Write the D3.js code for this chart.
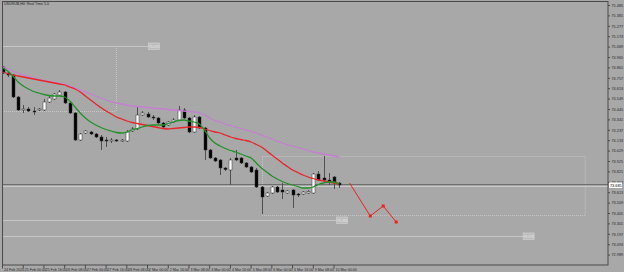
<!DOCTYPE html>
<html>
<head>
<meta charset="utf-8">
<script src="https://cdnjs.cloudflare.com/ajax/libs/d3/7.8.5/d3.min.js"></script>
<style>
body { margin: 0; background: #a8a8a8; }
svg { display: block; font-family: "Liberation Sans", "DejaVu Sans", sans-serif; }
</style>
</head>
<body>
<div id="chart"></div>
<script>
//Chart title
var title = "USDRUB,H4: Real Time 5.0";

//Candles, one value per H4 bar
var opens = [74.865, 74.805, 74.785, 74.565, 74.435, 74.445, 74.425, 74.435, 74.435, 74.515,
	74.545, 74.585, 74.615, 74.505, 74.405, 74.135, 74.205, 74.215, 74.195, 74.165,
	74.135, 74.130, 74.135, 74.125, 74.125, 74.225, 74.245, 74.385, 74.395, 74.365,
	74.355, 74.305, 74.285, 74.315, 74.335, 74.435, 74.355, 74.215, 74.365, 74.255,
	74.035, 73.955, 73.935, 73.855, 73.835, 73.955, 73.955, 73.905, 73.865, 73.835,
	73.665, 73.575, 73.605, 73.665, 73.635, 73.605, 73.635, 73.595, 73.595, 73.605,
	73.605, 73.795, 73.755, 73.735, 73.765, 73.705];
var highs = [74.875, 74.815, 74.795, 74.575, 74.485, 74.465, 74.465, 74.455, 74.545, 74.575,
	74.605, 74.635, 74.625, 74.515, 74.415, 74.205, 74.235, 74.225, 74.205, 74.185,
	74.165, 74.155, 74.145, 74.145, 74.235, 74.265, 74.465, 74.425, 74.415, 74.385,
	74.365, 74.315, 74.325, 74.355, 74.475, 74.455, 74.365, 74.385, 74.375, 74.265,
	74.045, 73.965, 73.945, 73.865, 73.955, 74.035, 73.965, 73.915, 73.875, 73.855,
	73.675, 73.615, 73.675, 73.675, 73.705, 73.635, 73.645, 73.605, 73.625, 73.635,
	73.805, 73.825, 73.975, 73.805, 73.775, 73.715];
var lows = [74.795, 74.765, 74.555, 74.425, 74.405, 74.415, 74.385, 74.425, 74.425, 74.505,
	74.535, 74.575, 74.495, 74.395, 74.125, 74.125, 74.195, 74.185, 74.155, 74.035,
	74.065, 74.105, 74.115, 74.115, 74.115, 74.215, 74.235, 74.375, 74.355, 74.335,
	74.295, 74.255, 74.275, 74.305, 74.325, 74.345, 74.205, 74.205, 74.245, 73.935,
	73.945, 73.915, 73.785, 73.825, 73.685, 73.925, 73.895, 73.855, 73.805, 73.655,
	73.395, 73.565, 73.595, 73.605, 73.545, 73.595, 73.455, 73.565, 73.585, 73.595,
	73.595, 73.725, 73.725, 73.685, 73.645, 73.655];
var closes = [74.805, 74.785, 74.565, 74.435, 74.445, 74.425, 74.420, 74.445, 74.515, 74.555,
	74.595, 74.615, 74.505, 74.405, 74.135, 74.195, 74.225, 74.195, 74.165, 74.125,
	74.130, 74.135, 74.125, 74.135, 74.215, 74.245, 74.385, 74.405, 74.365, 74.355,
	74.305, 74.265, 74.315, 74.335, 74.435, 74.355, 74.215, 74.365, 74.255, 74.035,
	73.955, 73.925, 73.855, 73.840, 73.935, 73.935, 73.905, 73.865, 73.815, 73.665,
	73.565, 73.605, 73.665, 73.615, 73.615, 73.625, 73.585, 73.585, 73.615, 73.620,
	73.795, 73.735, 73.735, 73.715, 73.705, 73.685];

//Moving averages (fast = green, middle = red, slow = violet)
var maFast = [74.855, 74.825, 74.775, 74.715, 74.675, 74.645, 74.620, 74.605, 74.590, 74.580,
	74.575, 74.575, 74.565, 74.525, 74.465, 74.405, 74.355, 74.315, 74.285, 74.260,
	74.240, 74.225, 74.210, 74.205, 74.215, 74.235, 74.250, 74.265, 74.280, 74.285,
	74.285, 74.285, 74.300, 74.315, 74.330, 74.335, 74.325, 74.315, 74.295, 74.235,
	74.155, 74.105, 74.075, 74.050, 74.030, 74.015, 73.995, 73.975, 73.955, 73.905,
	73.855, 73.815, 73.775, 73.745, 73.720, 73.700, 73.685, 73.670, 73.655, 73.655,
	73.665, 73.690, 73.705, 73.715, 73.715, 73.695];
var maMid = [74.815, 74.800, 74.785, 74.775, 74.765, 74.755, 74.745, 74.735, 74.725, 74.715,
	74.705, 74.695, 74.685, 74.665, 74.645, 74.615, 74.575, 74.535, 74.495, 74.460,
	74.425, 74.395, 74.365, 74.345, 74.325, 74.310, 74.300, 74.290, 74.280, 74.270,
	74.260, 74.250, 74.245, 74.250, 74.255, 74.260, 74.265, 74.265, 74.260, 74.245,
	74.230, 74.215, 74.205, 74.185, 74.165, 74.150, 74.140, 74.130, 74.115, 74.090,
	74.065, 74.025, 73.985, 73.945, 73.905, 73.870, 73.835, 73.810, 73.785, 73.765,
	73.750, 73.735, 73.725, 73.715, 73.705, 73.695];
var maSlow = [74.865, 74.845, 74.825, 74.805, 74.785, 74.770, 74.755, 74.740, 74.730, 74.720,
	74.710, 74.700, 74.690, 74.675, 74.655, 74.635, 74.615, 74.595, 74.575, 74.555,
	74.535, 74.515, 74.505, 74.495, 74.485, 74.475, 74.470, 74.465, 74.460, 74.455,
	74.450, 74.445, 74.440, 74.435, 74.430, 74.425, 74.420, 74.415, 74.405, 74.385,
	74.355, 74.330, 74.315, 74.295, 74.280, 74.265, 74.250, 74.235, 74.220, 74.205,
	74.185, 74.165, 74.145, 74.125, 74.105, 74.090, 74.075, 74.060, 74.045, 74.030,
	74.015, 74.005, 73.995, 73.985, 73.975, 73.965];

//Hand drawn forecast path (bar number, price)
var forecastBars = [67, 71, 73.5, 76];
var forecastPrices = [73.705, 73.375, 73.475, 73.315];

//Current bid
var bidPrice = 73.685;

//Horizontal levels drawn on the chart and the bar where their label sits
var levelPrices = [75.075, 73.335, 73.175];
var levelEnds = [28.2, 64.5, 100.5];

//Old high: dotted corner down to this price at this bar
var cornerBar = 21.9, cornerPrice = 74.425;

//Dotted box
var boxBars = [50, 112.3];
var boxPrices = [73.975, 73.385];

//Axis labels
var priceTicks = [75.485, 75.381, 75.277, 75.173, 75.069, 74.965, 74.861, 74.757, 74.653, 74.549,
	74.445, 74.341, 74.237, 74.133, 74.029, 73.925, 73.821, 73.717, 73.613, 73.509,
	73.405, 73.301, 73.197, 73.093, 72.989];
var timeLabels = ["24 Feb 2020", "25 Feb 00:00", "25 Feb 16:00", "26 Feb 08:00", "27 Feb 00:00",
	"27 Feb 16:00", "28 Feb 08:00", "2 Mar 00:00", "2 Mar 16:00", "3 Mar 08:00", "4 Mar 00:00",
	"4 Mar 16:00", "5 Mar 08:00", "6 Mar 00:00", "6 Mar 16:00", "9 Mar 08:00", "10 Mar 00:00"];
var labelEvery = 4;

///////////////////////////////////////////////////////////////////////////
//////////////////////////// Setup ////////////////////////////////////////
///////////////////////////////////////////////////////////////////////////

var width = 624, height = 272;
var plot = {left: 2.5, top: 1.5, right: 608, bottom: 265};

var x = d3.scaleLinear().domain([0, 65]).range([2.5, 339.2]);
var y = d3.scaleLinear().domain([75.515, 72.885]).range([2, 265]);

var svg = d3.select("#chart").append("svg")
	.attr("width", width)
	.attr("height", height);

svg.append("rect")
	.attr("width", width).attr("height", height)
	.attr("fill", "#a8a8a8");

svg.append("clipPath").attr("id", "clip")
	.append("rect")
	.attr("x", plot.left).attr("y", plot.top)
	.attr("width", plot.right - plot.left).attr("height", plot.bottom - plot.top);

var g = svg.append("g").attr("clip-path", "url(#clip)");

var bars = opens.map(function(o, i) {
	return {i: i, o: o, h: highs[i], l: lows[i], c: closes[i]};
});

///////////////////////////////////////////////////////////////////////////
//////////////////////////// Objects //////////////////////////////////////
///////////////////////////////////////////////////////////////////////////

var objColor = "#c6c6c6";

//level lines
g.selectAll(".level")
	.data(levelPrices)
	.enter().append("line")
	.attr("class", "level")
	.attr("x1", 0)
	.attr("x2", function(d, i) { return x(levelEnds[i]); })
	.attr("y1", function(d) { return Math.round(y(d)) + 0.5; })
	.attr("y2", function(d) { return Math.round(y(d)) + 0.5; })
	.attr("stroke", objColor)
	.attr("stroke-width", 1);

//dotted corner under the first level
g.append("line")
	.attr("x1", Math.round(x(cornerBar)) + 0.5).attr("x2", Math.round(x(cornerBar)) + 0.5)
	.attr("y1", y(levelPrices[0])).attr("y2", y(cornerPrice))
	.attr("stroke", objColor).attr("stroke-dasharray", "1,1");
g.append("line")
	.attr("x1", 0).attr("x2", x(cornerBar))
	.attr("y1", Math.round(y(cornerPrice)) + 0.5).attr("y2", Math.round(y(cornerPrice)) + 0.5)
	.attr("stroke", objColor).attr("stroke-dasharray", "1,1");

//dotted box
g.append("rect")
	.attr("x", Math.round(x(boxBars[0])) + 0.5)
	.attr("y", Math.round(y(boxPrices[0])) + 0.5)
	.attr("width", x(boxBars[1]) - x(boxBars[0]))
	.attr("height", y(boxPrices[1]) - y(boxPrices[0]))
	.attr("fill", "none")
	.attr("stroke", objColor)
	.attr("stroke-dasharray", "1,1");

//bid line
var bidY = Math.round(y(bidPrice));
g.append("line")
	.attr("x1", 0).attr("x2", plot.right)
	.attr("y1", bidY - 0.5).attr("y2", bidY - 0.5)
	.attr("stroke", "#6e6e6e").attr("stroke-width", 1.2);
g.append("line")
	.attr("x1", 0).attr("x2", plot.right)
	.attr("y1", bidY + 1.5).attr("y2", bidY + 1.5)
	.attr("stroke", "#d2d2d2").attr("stroke-width", 0.8);

///////////////////////////////////////////////////////////////////////////
//////////////////////////// Candles //////////////////////////////////////
///////////////////////////////////////////////////////////////////////////

var candle = g.selectAll(".candle")
	.data(bars)
	.enter().append("g")
	.attr("class", "candle");

candle.append("line")
	.attr("x1", function(d) { return Math.round(x(d.i)) + 0.5; })
	.attr("x2", function(d) { return Math.round(x(d.i)) + 0.5; })
	.attr("y1", function(d) { return y(d.h); })
	.attr("y2", function(d) { return y(d.l); })
	.attr("stroke", "#505050")
	.attr("stroke-width", 1);

candle.append("rect")
	.attr("x", function(d) { return Math.round(x(d.i)) - 1; })
	.attr("y", function(d) { return y(Math.max(d.o, d.c)); })
	.attr("width", 3)
	.attr("height", function(d) { return Math.max(1, Math.abs(y(d.o) - y(d.c))); })
	.attr("fill", function(d) { return d.c >= d.o ? "#ffffff" : "#000000"; })
	.attr("stroke", "#303030")
	.attr("stroke-width", 0.5);

///////////////////////////////////////////////////////////////////////////
//////////////////////////// Moving averages //////////////////////////////
///////////////////////////////////////////////////////////////////////////

var maLine = d3.line()
	.x(function(d, i) { return x(i); })
	.y(function(d) { return y(d); })
	.curve(d3.curveMonotoneX);

[[maSlow, "#c67ed2"], [maMid, "#e8262a"], [maFast, "#23912a"]].forEach(function(s) {
	g.append("path")
		.attr("d", maLine(s[0]))
		.attr("fill", "none")
		.attr("stroke", s[1])
		.attr("stroke-width", 1.3);
});

//forecast
var fc = forecastBars.map(function(b, i) { return [b, forecastPrices[i]]; });
g.append("path")
	.attr("d", d3.line().x(function(d) { return x(d[0]); }).y(function(d) { return y(d[1]); })(fc))
	.attr("fill", "none")
	.attr("stroke", "#ee2020")
	.attr("stroke-width", 1);
g.selectAll(".fcdot")
	.data(fc.slice(1))
	.enter().append("rect")
	.attr("class", "fcdot")
	.attr("x", function(d) { return x(d[0]) - 1.5; })
	.attr("y", function(d) { return y(d[1]) - 1.5; })
	.attr("width", 3).attr("height", 3)
	.attr("fill", "#ee2020");

//level labels
var lab = g.selectAll(".lvlLabel")
	.data(levelPrices)
	.enter().append("g")
	.attr("class", "lvlLabel")
	.attr("transform", function(d, i) { return "translate(" + x(levelEnds[i]) + "," + Math.round(y(d)) + ")"; });
lab.append("rect")
	.attr("x", 0).attr("y", -3)
	.attr("width", 11).attr("height", 6.5)
	.attr("fill", "#bcbcbc")
	.attr("stroke", "#d6d6d6")
	.attr("stroke-width", 0.6);
lab.append("text")
	.attr("x", 5.5).attr("y", 1.6)
	.attr("text-anchor", "middle")
	.attr("font-size", 3.4)
	.attr("fill", "#ececec")
	.text(function(d) { return d.toFixed(3); });

///////////////////////////////////////////////////////////////////////////
//////////////////////////// Axes and frame ///////////////////////////////
///////////////////////////////////////////////////////////////////////////

svg.append("rect")
	.attr("x", plot.left).attr("y", plot.top)
	.attr("width", plot.right - plot.left).attr("height", plot.bottom - plot.top)
	.attr("fill", "none")
	.attr("stroke", "#4a4a4a")
	.attr("stroke-width", 1);

var yAxis = svg.append("g")
	.attr("transform", "translate(" + plot.right + ",0)")
	.call(d3.axisRight(y).tickValues(priceTicks).tickSize(2).tickPadding(1.5)
		.tickFormat(d3.format(".3f")));
yAxis.select(".domain").remove();
yAxis.selectAll("line").attr("stroke", "#4a4a4a");
yAxis.selectAll("text").attr("font-size", 3.8).attr("fill", "#262626")
	.attr("font-family", "Liberation Sans, sans-serif");

var xAxis = svg.append("g")
	.attr("transform", "translate(0," + plot.bottom + ")")
	.call(d3.axisBottom(x)
		.tickValues(timeLabels.map(function(d, i) { return i * labelEvery; }))
		.tickSize(3.5).tickPadding(-0.5)
		.tickFormat(function(d, i) { return timeLabels[i]; }));
xAxis.select(".domain").remove();
xAxis.selectAll("line").attr("stroke", "#4a4a4a").attr("transform", "translate(-0.5,0)");
xAxis.selectAll("text").attr("font-size", 3.6).attr("fill", "#262626")
	.attr("text-anchor", "start").attr("dx", 1)
	.attr("font-family", "Liberation Sans, sans-serif");

//bid label
svg.append("rect")
	.attr("x", plot.right + 1).attr("y", bidY - 2.5)
	.attr("width", 13).attr("height", 5.5)
	.attr("fill", "#ffffff");
svg.append("text")
	.attr("x", plot.right + 2).attr("y", bidY + 1.6)
	.attr("font-size", 3.8)
	.attr("fill", "#000")
	.text(bidPrice.toFixed(3));

//title
svg.append("text")
	.attr("x", 4).attr("y", 5)
	.attr("font-size", 3.6)
	.attr("fill", "#222")
	.text(title);
</script>
</body>
</html>
